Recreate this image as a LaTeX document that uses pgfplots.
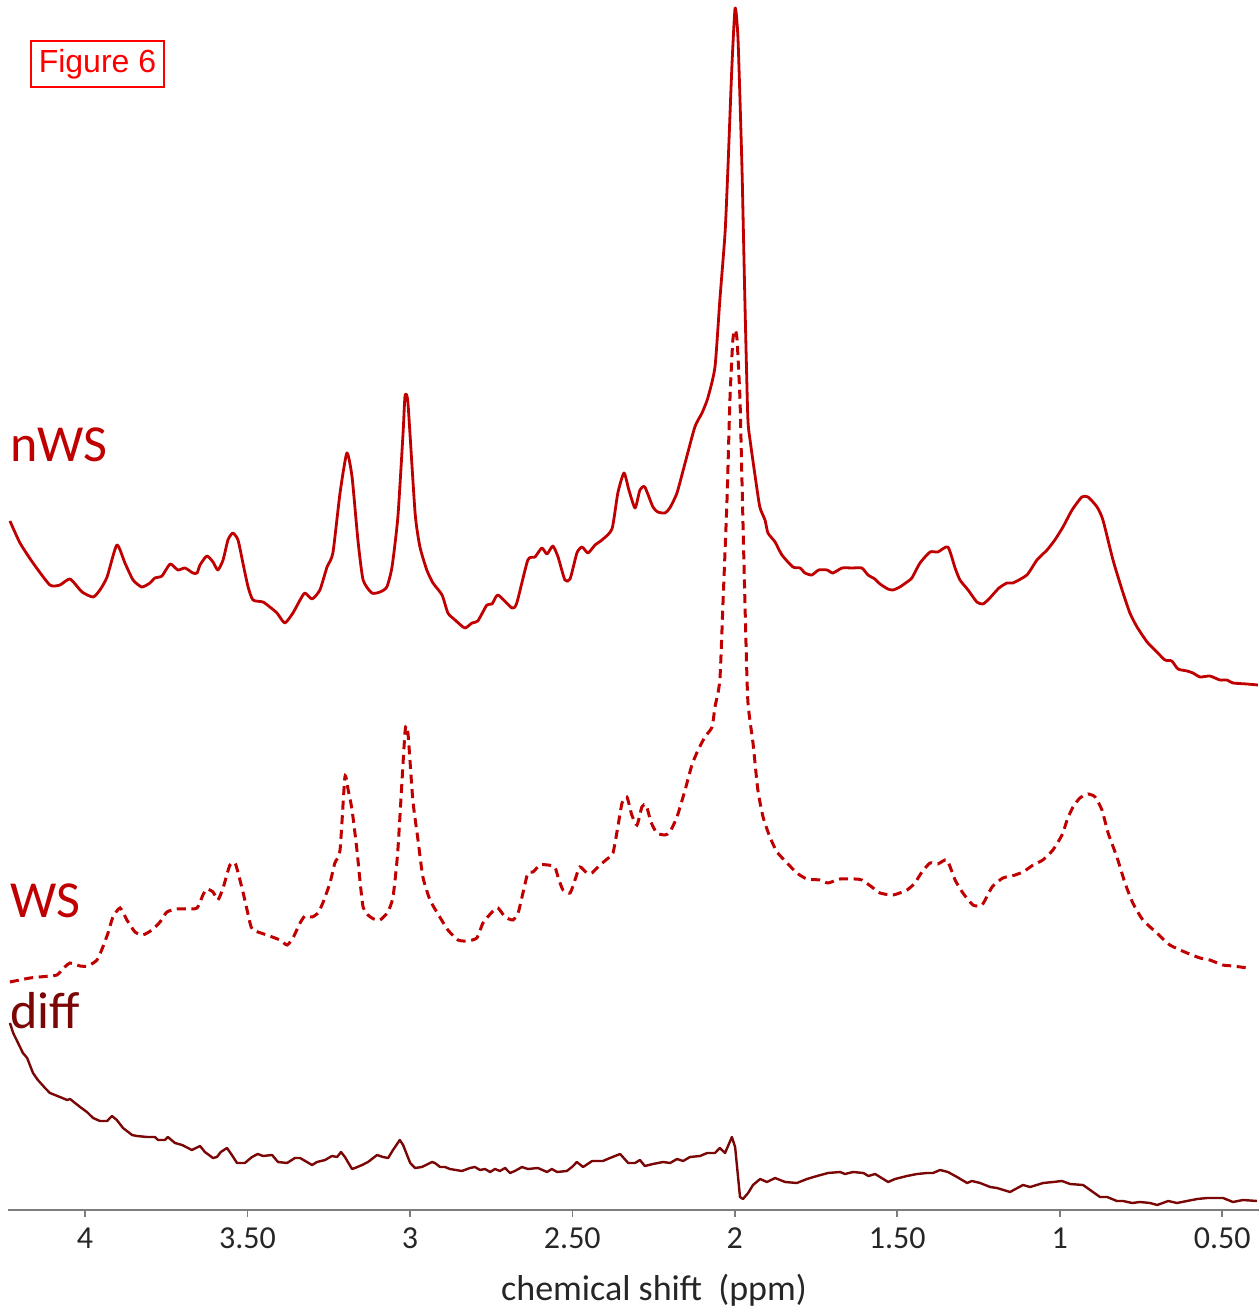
\documentclass[border=0pt]{standalone}
\usepackage{fontspec}
\setmainfont{Carlito}
\newfontfamily\arialfont{Liberation Sans}
\usepackage{pgfplots}
\pgfplotsset{compat=1.18}
\definecolor{wsred}{RGB}{192,0,0}
\definecolor{diffred}{RGB}{122,6,6}
\definecolor{axgray}{RGB}{125,125,125}
\definecolor{figred}{RGB}{255,0,0}
\begin{document}
\begin{tikzpicture}
\begin{axis}[
  scale only axis, width=625.5pt, height=605pt,
  xmin=0.3866, xmax=4.237, x dir=reverse,
  ymin=0, ymax=1210,
  axis y line=none, axis x line=bottom,
  x axis line style={axgray, line width=0.8pt, -},
  xtick={4,3.5,3,2.5,2,1.5,1,0.5},
  xticklabels={4,3.50,3,2.50,2,1.50,1,0.50},
  tick align=outside, major tick length=3.5pt,
  x tick style={axgray, line width=0.8pt},
  xticklabel style={font=\fontsize{16}{19}\selectfont, text=black!85, yshift=-2pt},
  /pgf/number format/assume math mode=true,
  clip=false,
  xlabel={chemical shift~~(ppm)},
  xlabel style={at={(rel axis cs:0.5164,0)}, anchor=base, yshift=-45pt, font=\fontsize{18}{21}\selectfont, text=black!85},
]
\coordinate (BL) at (rel axis cs:0,0);
\coordinate (TR) at (rel axis cs:1,1);
% nWS
\addplot[wsred, line width=1.4pt, line join=round, smooth, tension=0.35] coordinates {
(4.231,689) (4.200,667) (4.160,647) (4.108,625) (4.077,625) (4.046,631) (4.009,618) (3.975,613)
(3.954,620) (3.932,633) (3.902,665) (3.877,647) (3.852,630) (3.825,623) (3.800,627) (3.785,632)
(3.763,634) (3.738,646) (3.714,640) (3.692,642) (3.668,637) (3.655,637) (3.646,645) (3.625,654)
(3.606,648) (3.591,640) (3.575,650) (3.560,670) (3.545,677) (3.529,670) (3.514,647) (3.498,623)
(3.483,610) (3.452,608) (3.431,603) (3.409,597) (3.385,587) (3.360,597) (3.338,610) (3.323,617)
(3.301,611) (3.277,620) (3.255,643) (3.237,657) (3.215,717) (3.194,757) (3.178,733) (3.160,670)
(3.144,630) (3.117,617) (3.092,618) (3.071,623) (3.055,643) (3.037,693) (3.021,777) (3.015,814)
(3.006,807) (2.984,697) (2.969,663) (2.948,640) (2.929,627) (2.901,615) (2.883,597) (2.861,590)
(2.831,582) (2.809,587) (2.791,589) (2.763,605) (2.747,606) (2.729,615) (2.686,602) (2.671,607)
(2.637,650) (2.615,653) (2.594,662) (2.578,656) (2.560,664) (2.544,653) (2.523,630) (2.507,631)
(2.486,657) (2.470,663) (2.452,657) (2.430,665) (2.409,670) (2.378,681) (2.360,717) (2.341,737)
(2.326,720) (2.307,702) (2.292,720) (2.277,723) (2.252,703) (2.237,698) (2.215,697) (2.200,702)
(2.178,717) (2.153,747) (2.123,783) (2.101,797) (2.083,812) (2.061,843) (2.046,910) (2.030,977)
(2.021,1043) (2.009,1143) (1.999,1202) (1.990,1170) (1.978,1043) (1.969,910) (1.960,793) (1.953,770)
(1.938,735) (1.923,703) (1.907,690) (1.898,677) (1.876,668) (1.855,655) (1.821,643) (1.799,642)
(1.784,637) (1.763,635) (1.742,640) (1.716,640) (1.698,637) (1.670,642) (1.639,642) (1.609,642)
(1.590,635) (1.569,631) (1.553,626) (1.529,621) (1.513,620) (1.492,623) (1.470,628) (1.455,632)
(1.430,647) (1.399,658) (1.375,658) (1.344,663) (1.322,642) (1.307,630) (1.282,620) (1.255,608)
(1.236,606) (1.215,612) (1.187,622) (1.162,627) (1.144,627) (1.101,635) (1.070,650) (1.039,660)
(1.015,670) (0.990,683) (0.962,700) (0.932,713) (0.913,713) (0.885,703) (0.867,690) (0.836,650)
(0.808,620) (0.784,597) (0.762,583) (0.731,568) (0.701,558) (0.676,550) (0.655,549) (0.636,541)
(0.608,539) (0.590,537) (0.568,533) (0.538,534) (0.507,530) (0.485,530) (0.467,527) (0.424,526)
(0.390,525)
};
% WS
\addplot[wsred, line width=1.5pt, dash pattern=on 4.5pt off 2.8pt, smooth, tension=0.35] coordinates {
(4.231,228) (4.169,232) (4.108,234) (4.086,235) (4.062,243) (4.046,247) (4.015,244) (3.991,244)
(3.963,250) (3.945,263) (3.929,277) (3.914,293) (3.892,302) (3.871,290) (3.846,278) (3.822,275)
(3.794,280) (3.769,288) (3.748,298) (3.717,301) (3.686,301) (3.655,302) (3.637,315) (3.625,321)
(3.606,318) (3.591,310) (3.575,322) (3.554,345) (3.538,347) (3.523,330) (3.508,310) (3.492,287)
(3.483,280) (3.440,275) (3.400,270) (3.378,265) (3.360,272) (3.338,287) (3.323,294) (3.301,293)
(3.283,297) (3.268,307) (3.246,327) (3.231,347) (3.215,360) (3.200,433) (3.190,420) (3.178,400)
(3.163,360) (3.144,303) (3.117,292) (3.092,290) (3.068,298) (3.052,313) (3.037,360) (3.015,478)
(3.006,477) (2.991,410) (2.975,370) (2.960,333) (2.938,310) (2.908,293) (2.883,280) (2.852,270)
(2.824,269) (2.794,272) (2.775,287) (2.747,298) (2.729,302) (2.707,293) (2.683,290) (2.667,297)
(2.652,317) (2.637,337) (2.621,338) (2.600,345) (2.575,345) (2.554,343) (2.544,333) (2.529,320)
(2.507,317) (2.492,330) (2.477,343) (2.455,337) (2.440,337) (2.415,345) (2.393,351) (2.375,357)
(2.360,383) (2.347,407) (2.332,413) (2.317,395) (2.301,385) (2.286,403) (2.273,405) (2.258,388)
(2.240,377) (2.215,375) (2.200,378) (2.178,393) (2.153,420) (2.132,445) (2.113,460) (2.092,473)
(2.070,483) (2.061,503) (2.046,530) (2.036,610) (2.024,710) (2.015,810) (2.006,870) (1.999,880)
(1.993,870) (1.984,810) (1.978,730) (1.969,610) (1.960,510) (1.944,467) (1.929,420) (1.913,393)
(1.892,373) (1.870,358) (1.839,347) (1.809,337) (1.778,331) (1.738,330) (1.713,327) (1.676,331)
(1.630,331) (1.609,330) (1.578,323) (1.553,317) (1.513,315) (1.470,320) (1.446,327) (1.424,338)
(1.399,347) (1.375,346) (1.347,350) (1.322,330) (1.298,317) (1.267,305) (1.239,305) (1.208,323)
(1.175,332) (1.147,334) (1.113,338) (1.082,345) (1.052,350) (1.021,360) (0.993,375) (0.975,392)
(0.959,403) (0.938,412) (0.913,416) (0.891,413) (0.870,400) (0.851,377) (0.824,353) (0.799,327)
(0.775,307) (0.744,290) (0.701,277) (0.661,265) (0.608,257) (0.568,252) (0.538,250) (0.498,245)
(0.467,244) (0.421,242)
};
% diff
\addplot[diffred, line width=1.2pt, line join=round] coordinates {
(4.231,187) (4.221,177) (4.191,157) (4.178,152) (4.160,137) (4.145,130) (4.123,122) (4.108,117)
(4.077,113) (4.055,110) (4.046,111) (4.015,103) (3.994,98) (3.975,92) (3.954,89) (3.932,89)
(3.917,94) (3.902,90) (3.883,82) (3.855,75) (3.840,74) (3.809,73) (3.785,73) (3.775,70)
(3.754,70) (3.745,73) (3.723,67) (3.701,65) (3.671,60) (3.646,64) (3.631,58) (3.606,52)
(3.594,53) (3.582,58) (3.563,62) (3.548,55) (3.532,47) (3.508,47) (3.486,53) (3.468,56)
(3.452,54) (3.424,55) (3.406,48) (3.378,47) (3.354,52) (3.338,52) (3.317,48) (3.301,45)
(3.286,48) (3.261,50) (3.240,54) (3.224,53) (3.212,58) (3.200,53) (3.178,41) (3.169,42)
(3.147,45) (3.129,48) (3.101,55) (3.083,53) (3.067,52) (3.052,60) (3.031,70) (3.021,65)
(2.999,47) (2.984,42) (2.963,43) (2.932,48) (2.923,47) (2.907,43) (2.892,43) (2.877,41)
(2.840,39) (2.815,42) (2.800,43) (2.784,40) (2.769,41) (2.753,38) (2.738,41) (2.723,39)
(2.707,42) (2.692,37) (2.677,39) (2.655,43) (2.637,41) (2.606,42) (2.578,38) (2.563,41)
(2.547,38) (2.517,39) (2.501,43) (2.486,48) (2.467,43) (2.439,49) (2.406,49) (2.384,52)
(2.353,56) (2.328,47) (2.307,47) (2.292,50) (2.277,44) (2.252,46) (2.221,48) (2.199,47)
(2.178,51) (2.159,49) (2.138,53) (2.107,54) (2.085,57) (2.061,57) (2.046,62) (2.030,57)
(2.009,73) (1.999,63) (1.990,33) (1.984,13) (1.975,11) (1.959,17) (1.944,25) (1.922,31)
(1.901,28) (1.876,32) (1.845,28) (1.809,27) (1.778,31) (1.747,34) (1.713,37) (1.676,38)
(1.661,36) (1.636,38) (1.604,37) (1.589,34) (1.568,36) (1.528,28) (1.507,31) (1.470,34)
(1.439,36) (1.408,37) (1.390,37) (1.368,40) (1.344,38) (1.316,33) (1.285,27) (1.270,29)
(1.245,27) (1.214,23) (1.193,22) (1.153,18) (1.113,25) (1.091,23) (1.051,27) (1.020,28)
(0.993,29) (0.968,26) (0.928,25) (0.876,13) (0.854,13) (0.824,9) (0.805,9) (0.777,7)
(0.753,8) (0.722,7) (0.700,5) (0.666,9) (0.639,7) (0.608,9) (0.577,11) (0.546,12)
(0.497,12) (0.467,8) (0.436,10) (0.393,9)
};
\node[anchor=base west, inner sep=0pt, text=wsred, font=\fontsize{26}{30}\selectfont] at (axis cs:4.231,748) {nWS};
\node[anchor=base west, inner sep=0pt, text=wsred, font=\fontsize{26}{30}\selectfont] at (axis cs:4.231,292) {WS};
\node[anchor=base west, inner sep=0pt, text=diffred, font=\fontsize{26}{30}\selectfont] at (axis cs:4.231,181) {diff};
\node[draw=figred, line width=1pt, text=figred, font=\arialfont\fontsize{16}{19}\selectfont,
      minimum width=66.5pt, minimum height=23pt, inner sep=0pt] at (axis cs:3.9616,1146) {Figure 6};
\end{axis}
\pgfresetboundingbox
\path[use as bounding box] ([xshift=-4pt,yshift=-49.5pt]BL) rectangle (TR);
\end{tikzpicture}
\end{document}
